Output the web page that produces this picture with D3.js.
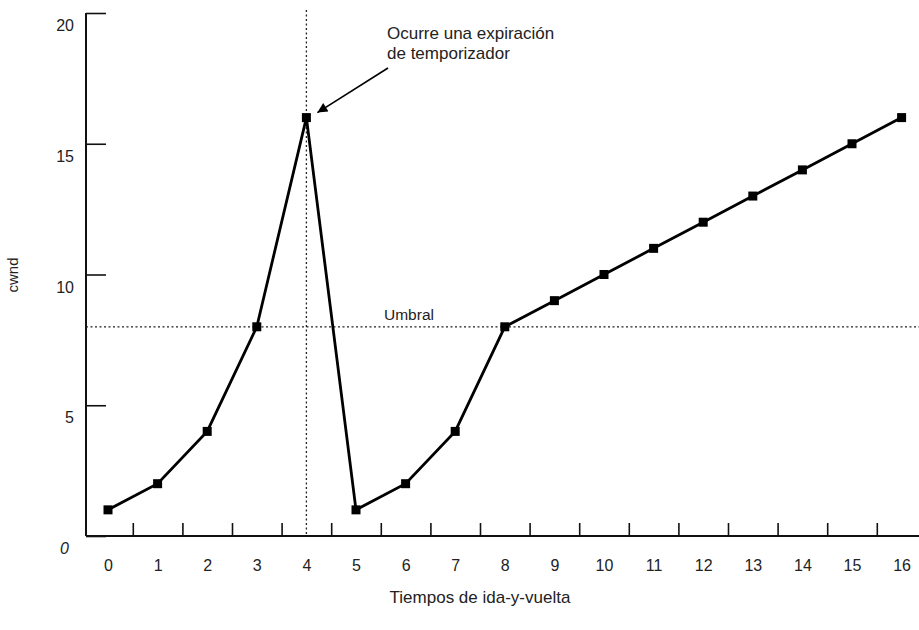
<!DOCTYPE html>
<html><head><meta charset="utf-8">
<script src="https://cdn.jsdelivr.net/npm/d3@7"></script>
<style>body{margin:0;background:#fff}svg{display:block}text{font-family:"Liberation Sans",Arial,sans-serif;fill:#222}</style>
</head><body>
<svg id="c" width="919" height="630"></svg>
<script>
const rounds = [0,1,2,3,4,5,6,7,8,9,10,11,12,13,14,15,16];
const cwnd = [1,2,4,8,16,1,2,4,8,9,10,11,12,13,14,15,16];
const yTicks = [0,5,10,15,20];
const threshold = 8;
const timeoutRound = 4;
const annotation = ["Ocurre una expiración","de temporizador"];
const thresholdLabel = "Umbral";
const xTitle = "Tiempos de ida-y-vuelta";
const yTitle = "cwnd";

const svg = d3.select("#c");
const x = d3.scaleLinear().domain([0,16]).range([108,901.6]);
const y = d3.scaleLinear().domain([0,20]).range([536,13]);
const axisX0 = 86, axisXEnd = 919;

// y axis
const gy = svg.append("g").attr("transform",`translate(${axisX0},0)`)
  .call(d3.axisLeft(y).tickValues(yTicks).tickSize(-20).tickSizeOuter(0).tickPadding(12));
gy.select(".domain").remove();
gy.selectAll(".tick line").attr("stroke","#111").attr("stroke-width",1.6);
gy.selectAll(".tick text").attr("font-size",16).attr("dy","1.1em").attr("fill","#222")
  .attr("font-style",d=>d===0?"italic":null)
  .attr("x",d=>d===0?-17:-12);
svg.append("line").attr("x1",axisX0).attr("x2",axisX0).attr("y1",y(20)).attr("y2",y(0))
  .attr("stroke","#111").attr("stroke-width",2);

// x axis
const halves = rounds.slice(0,-1).map(d=>d+0.5);
const gxt = svg.append("g").attr("transform",`translate(0,${y(0)})`)
  .call(d3.axisBottom(x).tickValues(halves).tickSize(-13).tickFormat(""));
gxt.select(".domain").remove();
gxt.selectAll(".tick line").attr("stroke","#111").attr("stroke-width",1.6);
const gxl = svg.append("g").attr("transform",`translate(0,${y(0)})`)
  .call(d3.axisBottom(x).tickValues(rounds).tickSize(0).tickPadding(24).tickFormat(d3.format("d")));
gxl.select(".domain").remove();
gxl.selectAll(".tick text").attr("font-size",16).attr("fill","#222");
svg.append("line").attr("x1",axisX0).attr("x2",axisXEnd).attr("y1",y(0)).attr("y2",y(0))
  .attr("stroke","#111").attr("stroke-width",2);

// threshold dotted line
svg.append("line").attr("x1",axisX0).attr("x2",axisXEnd).attr("y1",y(threshold)).attr("y2",y(threshold))
  .attr("stroke","#222").attr("stroke-width",1.3).attr("stroke-dasharray","2,2.5");
svg.append("text").attr("x",384).attr("y",y(threshold)-7).attr("font-size",15.5).text(thresholdLabel);

// vertical dotted at timeout
svg.append("line").attr("x1",x(timeoutRound)).attr("x2",x(timeoutRound)).attr("y1",10).attr("y2",y(0))
  .attr("stroke","#222").attr("stroke-width",1.3).attr("stroke-dasharray","2,2.5");

// data line
const line = d3.line().x((d,i)=>x(rounds[i])).y(d=>y(d));
svg.append("path").datum(cwnd).attr("d",line).attr("fill","none")
  .attr("stroke","#000").attr("stroke-width",2.8).attr("stroke-linejoin","miter");
svg.selectAll("rect.pt").data(cwnd).enter().append("rect").attr("class","pt")
  .attr("x",(d,i)=>x(rounds[i])-4.5).attr("y",d=>y(d)-4.5).attr("width",9).attr("height",9).attr("fill","#000");

// annotation
svg.append("defs").append("marker").attr("id","ah").attr("viewBox","0 0 10 10")
  .attr("refX",10).attr("refY",5).attr("markerWidth",12).attr("markerHeight",10)
  .attr("markerUnits","userSpaceOnUse").attr("orient","auto")
  .append("path").attr("d","M0,0L10,5L0,10z").attr("fill","#000");
const peakX = x(timeoutRound), peakY = y(cwnd[timeoutRound]);
svg.append("line").attr("x1",388).attr("y1",68).attr("x2",peakX+11).attr("y2",peakY-5)
  .attr("stroke","#000").attr("stroke-width",1.6).attr("marker-end","url(#ah)");
svg.append("text").attr("x",387).attr("y",39).attr("font-size",17)
  .selectAll("tspan").data(annotation).enter().append("tspan")
  .attr("x",387).attr("dy",(d,i)=>i===0?0:"1.15em").text(d=>d);

// titles
svg.append("text").attr("x",480).attr("y",603).attr("text-anchor","middle").attr("font-size",17).text(xTitle);
svg.append("text").attr("transform","translate(18,275) rotate(-90)").attr("text-anchor","middle").attr("font-size",15).text(yTitle);
</script>
</body></html>
